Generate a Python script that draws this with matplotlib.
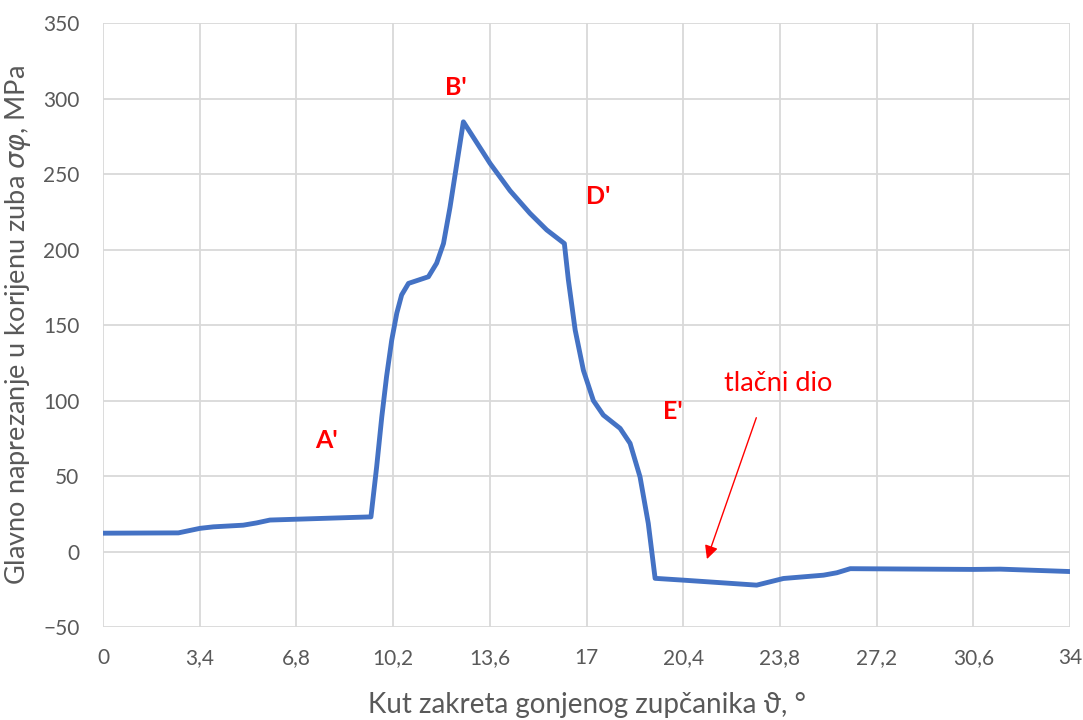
import matplotlib.pyplot as plt

plt.rcParams['font.family'] = ['Lato', 'DejaVu Sans']

# kut zakreta [deg] i naprezanje [MPa], ocitano s grafa
theta = [0, 2.65, 3.41, 3.88, 4.93, 5.4, 5.87, 9.42,
         9.62, 9.80, 9.97, 10.15, 10.33, 10.50, 10.74, 11.09, 11.44, 11.73, 11.97,
         12.2, 12.44, 12.67,
         13.61, 14.31, 15.01, 15.6, 16.22,
         16.36, 16.6, 16.89, 17.24, 17.59, 18.18, 18.53, 18.88, 19.17, 19.41,
         20.4, 22.98, 23.92, 25.33, 25.8, 26.27, 30.6, 31.54, 34.0]
sigma = [12.2, 12.4, 15.4, 16.4, 17.5, 19.0, 20.9, 23.0,
         56, 89, 116, 140, 158, 170, 177.6, 179.8, 182, 191, 204,
         228, 257, 284.6,
         257, 239, 224, 213, 204,
         180, 146.7, 120, 100, 90.4, 81.6, 71.7, 49.5, 18.7, -17.7,
         -18.9, -22.2, -17.8, -15.6, -14.0, -11.3, -11.8, -11.6, -13.2]

xticks = [0, 3.4, 6.8, 10.2, 13.6, 17, 20.4, 23.8, 27.2, 30.6, 34]
xtick_labels = ['0', '3,4', '6,8', '10,2', '13,6', '17', '20,4', '23,8', '27,2', '30,6', '34']
yticks = [-50, 0, 50, 100, 150, 200, 250, 300, 350]

points = [("A'", 7.84, 73.8), ("B'", 12.41, 307), ("D'", 17.4, 235), ("E'", 20.04, 92.5)]

fig = plt.figure(figsize=(10.83, 7.2), dpi=100)
ax = fig.add_axes([0.0951, 0.129, 0.893, 0.839])

ax.plot(theta, sigma, color='#4472C4', lw=3.5, solid_joinstyle='round',
        solid_capstyle='round', zorder=3)

ax.set_xlim(0, 34)
ax.set_ylim(-50, 350)
ax.set_xticks(xticks)
ax.set_xticklabels(xtick_labels)
ax.set_yticks(yticks)
ax.tick_params(length=0, labelsize=15, colors='#595959')
ax.tick_params(axis='x', pad=15)
ax.tick_params(axis='y', pad=17)
ax.grid(True, color='#D9D9D9', lw=1.3)
ax.set_axisbelow(True)
for s in ax.spines.values():
    s.set_visible(False)

ax.set_xlabel('Kut zakreta gonjenog zupčanika ϑ, °', fontsize=20, color='#595959', labelpad=17)
ax.set_ylabel('Glavno naprezanje u korijenu zuba $\\sigma\\varphi$, MPa', fontsize=19.5,
              color='#595959', labelpad=7)

for name, x, y in points:
    ax.text(x, y, name, color='red', fontsize=18, fontweight='bold', ha='center', va='center')

ax.text(23.73, 111.6, 'tlačni dio', color='red', fontsize=19.5, ha='center', va='center')
ax.annotate('', xy=(21.2, -6.7), xytext=(23.0, 90.4),
            arrowprops=dict(arrowstyle='-|>', color='red', lw=1.0, mutation_scale=20))

fig.savefig('out.png', dpi=100)
